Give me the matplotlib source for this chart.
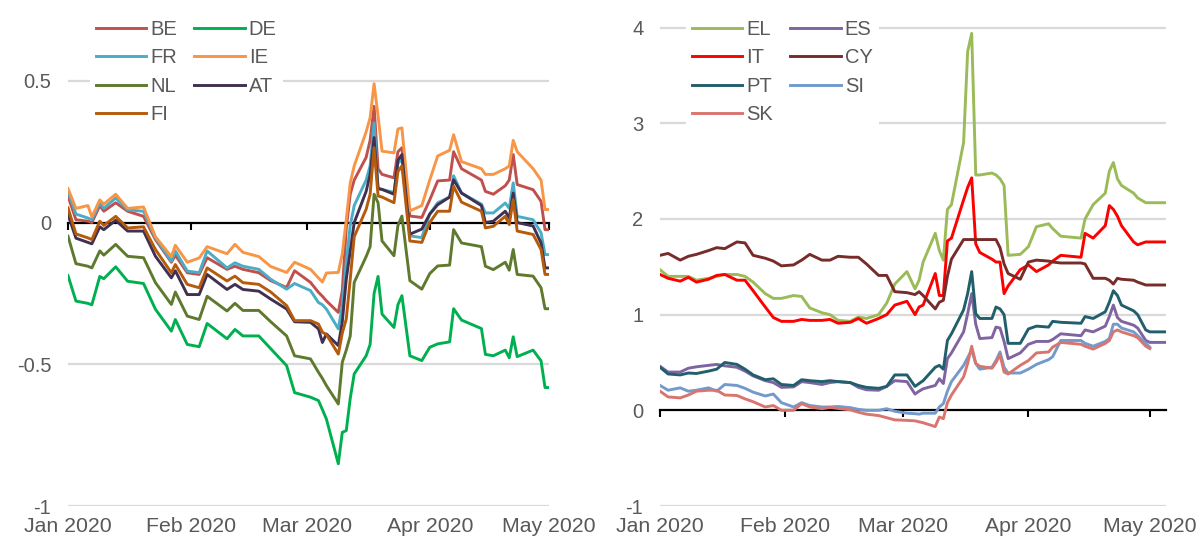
import matplotlib
matplotlib.use('Agg')
import matplotlib.pyplot as plt
from matplotlib.ticker import FuncFormatter
import pandas as pd

plt.rcParams['font.family'] = ['Liberation Sans', 'DejaVu Sans']
plt.rcParams['axes.unicode_minus'] = False

# ---- left panel data (2020) ----
left_dates = ['01-01', '01-03', '01-06', '01-07', '01-09', '01-10', '01-13', '01-16', '01-20', '01-23',
              '01-27', '01-28', '01-31',
              '02-03', '02-05', '02-10', '02-12', '02-14', '02-18', '02-21', '02-25', '02-27',
              '03-02', '03-04', '03-05', '03-06', '03-09', '03-10', '03-11', '03-12', '03-13', '03-16',
              '03-17', '03-18', '03-19', '03-20', '03-23', '03-24', '03-25', '03-27', '03-30',
              '04-01', '04-03', '04-06', '04-07', '04-09', '04-14', '04-15', '04-17', '04-20', '04-21',
              '04-22', '04-23', '04-27', '04-29', '04-30',
              '05-01']

BE = [0.093, 0.01, 0.005, 0.0, 0.06, 0.04, 0.07, 0.04, 0.022, -0.06, -0.14, -0.115, -0.177,
      -0.183, -0.124, -0.165, -0.154, -0.165, -0.177, -0.205, -0.229, -0.17,
      -0.211, -0.246, -0.26, -0.276, -0.317, -0.24, -0.02, 0.10, 0.15, 0.23, 0.29, 0.41, 0.19,
      0.17, 0.158, 0.25, 0.264, 0.023, 0.018,
      0.08, 0.147, 0.15, 0.25, 0.19, 0.15, 0.11, 0.10, 0.13, 0.15, 0.24, 0.134, 0.116, 0.075, -0.025,
      -0.025]
DE = [-0.187, -0.277, -0.285, -0.29, -0.19, -0.198, -0.156, -0.207, -0.215, -0.306, -0.383, -0.342, -0.43,
      -0.438, -0.356, -0.41, -0.377, -0.40, -0.40, -0.445, -0.505, -0.60,
      -0.616, -0.628, -0.66, -0.693, -0.851, -0.74, -0.734, -0.62, -0.534, -0.47, -0.43, -0.25, -0.19,
      -0.323, -0.37, -0.29, -0.258, -0.47, -0.487,
      -0.44, -0.428, -0.421, -0.304, -0.344, -0.374, -0.465, -0.47, -0.45, -0.477, -0.403, -0.473, -0.45,
      -0.488, -0.582,
      -0.582]
FR = [0.11, 0.03, 0.016, 0.01, 0.07, 0.05, 0.087, 0.045, 0.04, -0.054, -0.136, -0.10, -0.171,
      -0.177, -0.10, -0.16, -0.142, -0.154, -0.165, -0.20, -0.235, -0.215,
      -0.24, -0.282, -0.29, -0.305, -0.375, -0.293, -0.14, -0.01, 0.06, 0.15, 0.20, 0.352, 0.12,
      0.117, 0.106, 0.21, 0.223, -0.047, -0.053,
      0.03, 0.07, 0.09, 0.165, 0.104, 0.065, 0.034, 0.034, 0.069, 0.05, 0.14, 0.022, 0.01, -0.036, -0.113,
      -0.113]
IE = [0.12, 0.05, 0.06, 0.02, 0.08, 0.065, 0.10, 0.05, 0.055, -0.05, -0.12, -0.08, -0.14,
      -0.125, -0.085, -0.11, -0.077, -0.105, -0.12, -0.155, -0.176, -0.14,
      -0.165, -0.195, -0.21, -0.178, -0.176, -0.11, 0.01, 0.14, 0.20, 0.32, 0.37, 0.49, 0.376,
      0.252, 0.246, 0.33, 0.334, 0.041, 0.06,
      0.15, 0.235, 0.255, 0.31, 0.215, 0.19, 0.17, 0.17, 0.19, 0.20, 0.29, 0.25, 0.19, 0.15, 0.046,
      0.046]
NL = [-0.048, -0.145, -0.154, -0.16, -0.10, -0.115, -0.077, -0.119, -0.124, -0.212, -0.289, -0.245, -0.33,
      -0.342, -0.26, -0.312, -0.285, -0.31, -0.31, -0.35, -0.40, -0.47,
      -0.481, -0.528, -0.55, -0.575, -0.64, -0.493, -0.45, -0.40, -0.211, -0.12, -0.085, 0.10, 0.07,
      -0.065, -0.117, -0.01, 0.023, -0.205, -0.235,
      -0.18, -0.153, -0.15, -0.025, -0.072, -0.085, -0.154, -0.166, -0.14, -0.168, -0.095, -0.183, -0.189,
      -0.23, -0.304,
      -0.304]
AT = [0.028, -0.055, -0.07, -0.075, -0.015, -0.025, 0.008, -0.03, -0.03, -0.119, -0.195, -0.17, -0.254,
      -0.254, -0.183, -0.236, -0.218, -0.236, -0.242, -0.27, -0.305, -0.35,
      -0.352, -0.375, -0.423, -0.393, -0.434, -0.35, -0.20, -0.10, 0.0, 0.11, 0.17, 0.30, 0.12,
      0.117, 0.10, 0.22, 0.24, -0.041, -0.023,
      0.03, 0.063, 0.09, 0.151, 0.104, 0.06, 0.0, 0.005, 0.04, 0.016, 0.104, 0.0, -0.012, -0.072, -0.16,
      -0.16]
FI = [0.052, -0.04, -0.054, -0.06, 0.005, -0.01, 0.022, -0.019, -0.015, -0.095, -0.177, -0.148, -0.218,
      -0.23, -0.16, -0.206, -0.189, -0.212, -0.218, -0.245, -0.293, -0.346,
      -0.346, -0.358, -0.387, -0.395, -0.464, -0.39, -0.34, -0.20, -0.05, 0.047, 0.10, 0.264, 0.094,
      0.09, 0.07, 0.18, 0.20, -0.065, -0.07,
      0.0, 0.04, 0.04, 0.128, 0.072, 0.04, -0.019, -0.013, 0.022, -0.007, 0.081, -0.03, -0.042, -0.095,
      -0.183,
      -0.183]

# ---- right panel data (2020) ----
right_dates = ['01-01', '01-03', '01-06', '01-08', '01-10', '01-13', '01-15', '01-17', '01-20', '01-22',
               '01-24', '01-27', '01-29', '01-31',
               '02-03', '02-05', '02-07', '02-10', '02-12', '02-14', '02-17', '02-19', '02-21', '02-24',
               '02-26', '02-28',
               '03-02', '03-04', '03-05', '03-06', '03-09', '03-10', '03-11', '03-12', '03-13', '03-16',
               '03-17', '03-18', '03-19', '03-20', '03-23', '03-24', '03-25', '03-26', '03-27', '03-30',
               '04-01', '04-03', '04-06', '04-07', '04-09', '04-14', '04-15', '04-17', '04-20', '04-21',
               '04-22', '04-23', '04-24', '04-27', '04-28', '04-30',
               '05-01', '05-04', '05-05']

EL = [1.47, 1.40, 1.40, 1.40, 1.36, 1.38, 1.40, 1.42, 1.42, 1.40, 1.34, 1.22, 1.17, 1.17,
      1.20, 1.19, 1.07, 1.02, 1.00, 0.94, 0.93, 0.975, 0.96, 1.00, 1.12, 1.32,
      1.45, 1.27, 1.36, 1.55, 1.85, 1.67, 1.57, 2.10, 2.15, 2.80, 3.75, 3.94, 2.46, 2.46, 2.48, 2.46,
      2.42, 2.35, 1.62, 1.63,
      1.71, 1.92, 1.95, 1.90, 1.82, 1.80, 2.00, 2.15, 2.27, 2.50, 2.59, 2.42, 2.35, 2.27, 2.22, 2.17,
      2.17, 2.17, 2.17]
ES = [0.46, 0.40, 0.40, 0.44, 0.455, 0.47, 0.48, 0.465, 0.45, 0.41, 0.36, 0.31, 0.29, 0.24,
      0.245, 0.30, 0.29, 0.27, 0.29, 0.30, 0.29, 0.24, 0.215, 0.21, 0.25, 0.31,
      0.30, 0.17, 0.20, 0.225, 0.26, 0.33, 0.28, 0.54, 0.60, 0.82, 1.01, 1.22, 0.90, 0.75, 0.76, 0.87,
      0.86, 0.72, 0.54, 0.60,
      0.69, 0.72, 0.72, 0.74, 0.80, 0.78, 0.84, 0.82, 0.88, 0.98, 1.10, 0.97, 0.93, 0.89, 0.86, 0.73,
      0.71, 0.71, 0.71]
IT = [1.42, 1.38, 1.35, 1.39, 1.34, 1.37, 1.41, 1.42, 1.36, 1.36, 1.25, 1.08, 0.97, 0.93,
      0.93, 0.95, 0.94, 0.94, 0.95, 0.91, 0.92, 0.96, 0.91, 0.96, 1.00, 1.10,
      1.14, 1.00, 1.08, 1.10, 1.43, 1.20, 1.20, 1.77, 1.80, 2.20, 2.33, 2.43, 1.74, 1.65, 1.58, 1.55,
      1.55, 1.22, 1.30, 1.47,
      1.52, 1.45, 1.52, 1.56, 1.62, 1.60, 1.85, 1.80, 1.93, 2.14, 2.10, 2.03, 1.93, 1.76, 1.73, 1.76,
      1.76, 1.76, 1.76]
CY = [1.62, 1.64, 1.57, 1.61, 1.63, 1.67, 1.70, 1.69, 1.76, 1.75, 1.62, 1.59, 1.56, 1.51,
      1.52, 1.57, 1.63, 1.57, 1.57, 1.61, 1.60, 1.60, 1.53, 1.41, 1.41, 1.24,
      1.23, 1.21, 1.24, 1.20, 1.06, 1.13, 1.15, 1.40, 1.58, 1.785, 1.785, 1.785, 1.785, 1.785, 1.785,
      1.785, 1.70, 1.53, 1.43, 1.37,
      1.55, 1.57, 1.56, 1.55, 1.54, 1.54, 1.53, 1.38, 1.38, 1.36, 1.32, 1.38, 1.37, 1.36, 1.34, 1.31,
      1.31, 1.31, 1.31]
PT = [0.45, 0.38, 0.37, 0.39, 0.385, 0.41, 0.43, 0.50, 0.48, 0.43, 0.37, 0.32, 0.33, 0.27,
      0.26, 0.32, 0.31, 0.30, 0.31, 0.30, 0.29, 0.26, 0.24, 0.23, 0.25, 0.37,
      0.37, 0.25, 0.28, 0.31, 0.45, 0.47, 0.43, 0.73, 0.80, 1.05, 1.22, 1.45, 1.01, 0.96, 0.96, 1.08,
      1.06, 1.00, 0.70, 0.70,
      0.85, 0.88, 0.87, 0.93, 0.92, 0.91, 0.98, 0.96, 1.03, 1.13, 1.25, 1.20, 1.10, 1.04, 1.00, 0.84,
      0.82, 0.82, 0.82]
SI = [0.26, 0.21, 0.235, 0.20, 0.21, 0.235, 0.20, 0.27, 0.26, 0.23, 0.19, 0.15, 0.17, 0.08,
      0.035, 0.08, 0.05, 0.035, 0.035, 0.04, 0.028, 0.01, 0.0, 0.0, 0.017, -0.01,
      -0.03, -0.035, -0.04, -0.03, -0.03, 0.035, 0.07, 0.20, 0.30, 0.47, 0.55, 0.63, 0.49, 0.43, 0.45,
      0.52, 0.61, 0.45, 0.39, 0.39,
      0.43, 0.48, 0.53, 0.56, 0.73, 0.73, 0.70, 0.67, 0.72, 0.75, 0.90, 0.90, 0.86, 0.82, 0.78, 0.70,
      0.66, None, None]
SK = [0.20, 0.14, 0.13, 0.16, 0.20, 0.21, 0.21, 0.16, 0.155, 0.12, 0.09, 0.035, 0.05, 0.0,
      0.0, 0.07, 0.035, 0.017, 0.03, 0.02, 0.005, -0.02, -0.04, -0.055, -0.077, -0.10,
      -0.105, -0.11, -0.12, -0.13, -0.17, -0.07, -0.087, 0.08, 0.16, 0.35, 0.49, 0.67, 0.49, 0.46, 0.44,
      0.50, 0.58, 0.40, 0.38, 0.47,
      0.52, 0.60, 0.61, 0.66, 0.71, 0.69, 0.67, 0.64, 0.70, 0.73, 0.82, 0.84, 0.82, 0.78, 0.76, 0.67,
      0.645, None, None]

left_series = [('BE', BE, '#C0504D'), ('DE', DE, '#00B050'), ('FR', FR, '#4BACC6'),
               ('IE', IE, '#F79646'), ('NL', NL, '#5F7A2E'), ('AT', AT, '#403152'),
               ('FI', FI, '#B65A0C')]
right_series = [('EL', EL, '#9BBB59'), ('ES', ES, '#8064A2'), ('IT', IT, '#FF0000'),
                ('CY', CY, '#772C2A'), ('PT', PT, '#215F6B'), ('SI', SI, '#729ACD'),
                ('SK', SK, '#D9756F')]

grey = '#595959'
fs = 14.5

fig = plt.figure(figsize=(12.03, 5.43), dpi=100)
axL = fig.add_axes([68 / 1203, 37 / 543, 481 / 1203, 496 / 543])
axR = fig.add_axes([660 / 1203, 37 / 543, 506 / 1203, 497.5 / 543])


def style(ax, end, ylim, yticks):
    start = pd.Timestamp('2020-01-01')
    ax.set_xlim(start, pd.Timestamp(end))
    ax.set_ylim(*ylim)
    for s in ax.spines.values():
        s.set_visible(False)
    ax.set_yticks(yticks)
    ax.yaxis.set_major_formatter(FuncFormatter(lambda v, p: f'{v:g}'))
    ax.tick_params(axis='y', length=0, pad=12, labelsize=fs, labelcolor=grey)
    months = pd.date_range('2020-01-01', '2020-05-01', freq='MS')
    ax.set_xticks(months)
    ax.set_xticklabels([m.strftime('%b %Y') for m in months])
    ax.tick_params(axis='x', length=0, pad=8, labelsize=15.3, labelcolor=grey)
    for t in yticks:
        if t != 0:
            ax.axhline(t, color='#D9D9D9', lw=1.6, zorder=0)
    # zero line with month tick marks
    sec = ax.secondary_xaxis((0 - ylim[0]) / (ylim[1] - ylim[0]))
    sec.set_alignment('bottom')
    sec.set_xticks(months)
    sec.set_xticklabels([])
    sec.tick_params(direction='out', length=5, width=1.5, color='black')
    sec.spines['bottom'].set_color('black')
    sec.spines['bottom'].set_linewidth(1.6)


style(axL, '2020-05-01', (-1, 0.75), [-1, -0.5, 0, 0.5])
style(axR, '2020-05-05', (-1, 4.2), [-1, 0, 1, 2, 3, 4])

ldates = pd.to_datetime(['2020-' + d for d in left_dates])
rdates = pd.to_datetime(['2020-' + d for d in right_dates])

hl = {}
for name, vals, col in left_series:
    hl[name], = axL.plot(ldates, vals, color=col, lw=2.1, label=name)
hr = {}
for name, vals, col in right_series:
    v = [float('nan') if x is None else x for x in vals]
    hr[name], = axR.plot(rdates, v, color=col, lw=2.1, label=name)

leg_kw = dict(ncol=2, loc='upper left', bbox_transform=fig.transFigure, frameon=True,
              facecolor='white', edgecolor='none', framealpha=1, fontsize=fs,
              handlelength=2.5, handletextpad=0.2, columnspacing=0.85, labelspacing=0.46,
              borderpad=0.3, borderaxespad=0)

orderL = ['BE', 'FR', 'NL', 'FI', 'DE', 'IE', 'AT']
legL = axL.legend([hl[k] for k in orderL], orderL, bbox_to_anchor=(90 / 1203, 1 - 14 / 543), **leg_kw)
orderR = ['EL', 'IT', 'PT', 'SK', 'ES', 'CY', 'SI']
legR = axR.legend([hr[k] for k in orderR], orderR, bbox_to_anchor=(686 / 1203, 1 - 14 / 543), **leg_kw)
for leg in (legL, legR):
    leg.set_zorder(5)
    for t in leg.get_texts():
        t.set_color(grey)

fig.savefig('out.png', dpi=100)
